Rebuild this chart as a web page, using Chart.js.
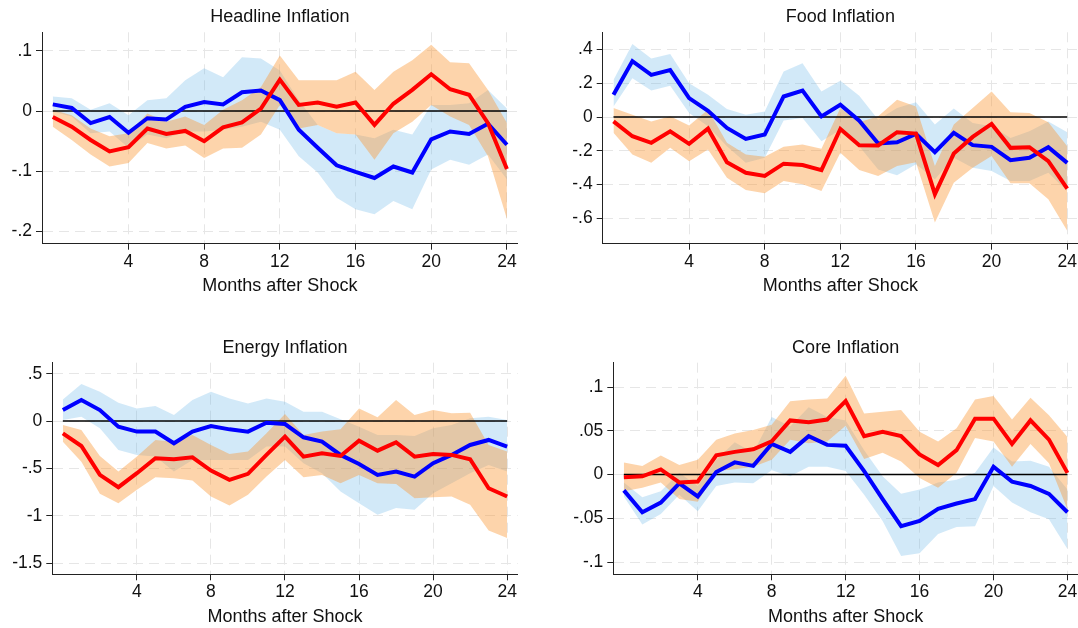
<!DOCTYPE html>
<html>
<head>
<meta charset="utf-8">
<title>Inflation responses</title>
<script src="https://cdn.jsdelivr.net/npm/chart.js@4/dist/chart.umd.min.js"></script>
<style>
  html, body { margin: 0; padding: 0; background: #ffffff; }
  body { width: 1078px; height: 628px; position: relative; overflow: hidden; }
  .panel { position: absolute; }
  .panel canvas { display: block; }
</style>
</head>
<body>
<div class="panel" style="left:0px;top:0px"><canvas id="headline" width="539" height="314"></canvas></div>
<div class="panel" style="left:539px;top:0px"><canvas id="food" width="539" height="314"></canvas></div>
<div class="panel" style="left:0px;top:330px"><canvas id="energy" width="539" height="298"></canvas></div>
<div class="panel" style="left:539px;top:330px"><canvas id="core" width="539" height="298"></canvas></div>

<script>
// Horizon (months after the shock) and the ticks shown on the x axis
const months = [0, 1, 2, 3, 4, 5, 6, 7, 8, 9, 10, 11, 12, 13, 14, 15, 16, 17, 18, 19, 20, 21, 22, 23, 24];
const monthTicks = [4, 8, 12, 16, 20, 24];
const zeroLevel = 0;

// Headline inflation
const headlineBlue   = [0.011, 0.005, -0.020, -0.010, -0.036, -0.012, -0.014, 0.007, 0.015, 0.011, 0.031, 0.034, 0.018, -0.031, -0.061, -0.090, -0.101, -0.111, -0.092, -0.102, -0.047, -0.034, -0.038, -0.021, -0.056];
const headlineBlueLo = [-0.001, -0.009, -0.037, -0.034, -0.061, -0.039, -0.045, -0.034, -0.034, -0.031, -0.026, -0.018, -0.031, -0.075, -0.102, -0.144, -0.163, -0.171, -0.149, -0.163, -0.097, -0.081, -0.089, -0.072, -0.113];
const headlineBlueHi = [0.024, 0.021, 0.002, 0.013, -0.007, 0.018, 0.021, 0.051, 0.071, 0.056, 0.089, 0.087, 0.067, 0.018, -0.023, -0.037, -0.039, -0.045, -0.031, -0.039, 0.010, 0.010, 0.013, 0.035, 0.004];
const headlineRed    = [-0.010, -0.026, -0.048, -0.067, -0.060, -0.029, -0.038, -0.033, -0.050, -0.027, -0.019, 0.004, 0.052, 0.010, 0.014, 0.007, 0.014, -0.023, 0.012, 0.035, 0.061, 0.036, 0.027, -0.020, -0.096];
const headlineRedLo  = [-0.026, -0.048, -0.072, -0.092, -0.086, -0.053, -0.062, -0.057, -0.078, -0.062, -0.061, -0.039, 0.010, -0.029, -0.023, -0.037, -0.039, -0.081, -0.037, -0.018, 0.010, -0.009, -0.023, -0.075, -0.179];
const headlineRedHi  = [0.002, -0.007, -0.029, -0.042, -0.037, -0.004, -0.018, -0.009, -0.023, 0.002, 0.018, 0.040, 0.092, 0.051, 0.051, 0.051, 0.065, 0.035, 0.065, 0.084, 0.110, 0.081, 0.079, 0.035, -0.020];
const headlineTicks  = [0.1, 0, -0.1, -0.2];

// Food inflation
const foodBlue   = [0.132, 0.332, 0.250, 0.279, 0.112, 0.037, -0.065, -0.130, -0.104, 0.122, 0.157, 0.004, 0.073, -0.022, -0.157, -0.150, -0.100, -0.209, -0.094, -0.167, -0.177, -0.256, -0.242, -0.179, -0.272];
const foodBlueLo = [0.063, 0.230, 0.157, 0.185, 0.024, -0.055, -0.173, -0.272, -0.242, -0.020, -0.006, -0.144, -0.075, -0.173, -0.311, -0.346, -0.281, -0.370, -0.242, -0.301, -0.321, -0.380, -0.380, -0.331, -0.439];
const foodBlueHi = [0.220, 0.433, 0.348, 0.374, 0.201, 0.132, 0.047, 0.014, 0.033, 0.270, 0.319, 0.151, 0.216, 0.126, -0.016, 0.053, 0.087, -0.045, 0.051, -0.035, -0.055, -0.124, -0.085, -0.026, -0.090];
const foodRed    = [-0.026, -0.114, -0.153, -0.085, -0.159, -0.069, -0.268, -0.331, -0.350, -0.277, -0.285, -0.315, -0.071, -0.167, -0.169, -0.090, -0.098, -0.458, -0.217, -0.118, -0.041, -0.183, -0.179, -0.262, -0.425];
const foodRedLo  = [-0.094, -0.222, -0.272, -0.183, -0.262, -0.193, -0.360, -0.433, -0.452, -0.380, -0.399, -0.439, -0.212, -0.315, -0.350, -0.291, -0.268, -0.626, -0.390, -0.301, -0.232, -0.393, -0.393, -0.488, -0.675];
const foodRedHi  = [0.053, 0.014, -0.026, 0.004, -0.051, 0.043, -0.153, -0.222, -0.236, -0.177, -0.163, -0.189, 0.053, -0.031, 0.004, 0.102, 0.063, -0.291, -0.045, 0.053, 0.151, 0.028, 0.024, -0.031, -0.173];
const foodTicks  = [0.4, 0.2, 0, -0.2, -0.4, -0.6];

// Energy inflation
const energyBlue   = [0.116, 0.221, 0.116, -0.060, -0.112, -0.112, -0.235, -0.112, -0.053, -0.088, -0.112, -0.018, -0.032, -0.172, -0.218, -0.358, -0.453, -0.569, -0.534, -0.587, -0.446, -0.358, -0.253, -0.200, -0.270];
const energyBlueLo = [0.011, 0.046, -0.077, -0.306, -0.358, -0.376, -0.534, -0.411, -0.411, -0.411, -0.411, -0.270, -0.270, -0.446, -0.551, -0.745, -0.868, -0.991, -0.920, -0.938, -0.762, -0.657, -0.551, -0.464, -0.534];
const energyBlueHi = [0.228, 0.390, 0.309, 0.193, 0.133, 0.158, 0.063, 0.221, 0.309, 0.239, 0.186, 0.239, 0.204, 0.098, 0.098, 0.018, -0.060, -0.148, -0.148, -0.158, -0.077, -0.042, 0.028, 0.046, 0.011];
const energyRed    = [-0.130, -0.264, -0.569, -0.699, -0.551, -0.393, -0.404, -0.383, -0.523, -0.622, -0.558, -0.358, -0.165, -0.376, -0.341, -0.369, -0.207, -0.313, -0.225, -0.376, -0.348, -0.358, -0.404, -0.710, -0.797];
const energyRedLo  = [-0.218, -0.429, -0.769, -0.868, -0.727, -0.594, -0.604, -0.629, -0.797, -0.892, -0.780, -0.587, -0.411, -0.594, -0.569, -0.657, -0.569, -0.657, -0.664, -0.815, -0.804, -0.797, -0.885, -1.156, -1.236];
const energyRedHi  = [-0.042, -0.095, -0.369, -0.534, -0.376, -0.200, -0.218, -0.148, -0.253, -0.348, -0.323, -0.130, 0.074, -0.148, -0.112, -0.088, 0.133, 0.039, 0.221, 0.063, 0.116, 0.081, 0.088, -0.253, -0.323];
const energyTicks  = [0.5, 0, -0.5, -1, -1.5];

// Core inflation
const coreBlue   = [-0.018, -0.043, -0.032, -0.010, -0.025, 0.003, 0.014, 0.010, 0.035, 0.026, 0.044, 0.034, 0.033, 0.004, -0.028, -0.059, -0.053, -0.039, -0.033, -0.028, 0.009, -0.008, -0.013, -0.022, -0.043];
const coreBlueLo = [-0.025, -0.057, -0.045, -0.023, -0.042, -0.013, -0.009, -0.010, 0.005, -0.002, 0.009, 0.009, 0.004, -0.023, -0.053, -0.093, -0.090, -0.068, -0.060, -0.059, -0.013, -0.032, -0.043, -0.051, -0.085];
const coreBlueHi = [-0.009, -0.026, -0.019, 0.002, -0.013, 0.017, 0.037, 0.025, 0.066, 0.055, 0.077, 0.066, 0.062, 0.028, -0.002, -0.022, -0.017, -0.009, -0.006, 0.002, 0.031, 0.015, 0.016, 0.009, -0.017];
const coreRed    = [-0.003, -0.002, 0.006, -0.009, -0.008, 0.022, 0.026, 0.029, 0.038, 0.062, 0.060, 0.063, 0.084, 0.044, 0.049, 0.044, 0.023, 0.011, 0.028, 0.064, 0.064, 0.035, 0.062, 0.040, 0.002];
const coreRedLo  = [-0.019, -0.015, -0.009, -0.028, -0.031, 0.004, 0.006, 0.009, 0.017, 0.040, 0.036, 0.038, 0.056, 0.018, 0.025, 0.015, -0.004, -0.015, 0.002, 0.042, 0.038, 0.009, 0.035, 0.013, -0.040];
const coreRedHi  = [0.014, 0.010, 0.022, 0.011, 0.017, 0.040, 0.047, 0.051, 0.057, 0.084, 0.086, 0.087, 0.113, 0.070, 0.072, 0.074, 0.049, 0.038, 0.053, 0.086, 0.090, 0.063, 0.088, 0.068, 0.043];
const coreTicks  = [0.1, 0.05, 0, -0.05, -0.1];

// Styling
const FONT = "'Liberation Sans', Arial, Helvetica, sans-serif";
const TEXT = '#111111';
const AXIS = '#222222';
const GRID = '#e6e6e6';
const BLUE = '#0000ff';
const RED = '#ff0000';
const BLUE_BAND = 'rgba(100, 180, 230, 0.29)';
const ORANGE_BAND = 'rgba(251, 150, 50, 0.41)';

// Stata-style number labels: ".1", "-.05", "-1.5"
function stataLabel(v) {
  const s = String(Math.round(v * 1000) / 1000);
  return s.replace(/^(-?)0\./, '$1.');
}

function points(values) {
  return months.map((m, i) => ({ x: m, y: values[i] }));
}

function lineSet(values, color) {
  return { data: points(values), borderColor: color, borderWidth: 4, pointRadius: 0, tension: 0, fill: false,
           borderJoinStyle: 'miter', borderCapStyle: 'butt' };
}

function bandEdge(values, fillColor, fillToPrevious) {
  return { data: points(values), borderColor: 'transparent', borderWidth: 0, pointRadius: 0, tension: 0,
           backgroundColor: fillColor, fill: fillToPrevious ? '-1' : false };
}

function drawPanel(canvasId, title, s, yTicks, yMin, yMax, frame) {
  const tickFont = { family: FONT, size: 17.5 };
  const titleFont = { family: FONT, size: 18, weight: 'normal' };
  const zeroLine = [
    { x: months[0], y: zeroLevel },
    { x: months[months.length - 1], y: zeroLevel }
  ];
  new Chart(document.getElementById(canvasId), {
    type: 'line',
    data: {
      datasets: [
        lineSet(s.red, RED),
        lineSet(s.blue, BLUE),
        { data: zeroLine, borderColor: '#000000', borderWidth: 1.5, pointRadius: 0, fill: false },
        bandEdge(s.redLo, ORANGE_BAND, false),
        bandEdge(s.redHi, ORANGE_BAND, true),
        bandEdge(s.blueLo, BLUE_BAND, false),
        bandEdge(s.blueHi, BLUE_BAND, true)
      ]
    },
    options: {
      responsive: false,
      animation: false,
      events: [],
      layout: { padding: { left: 0, right: frame.padRight, top: 0, bottom: 0 } },
      plugins: {
        legend: { display: false },
        tooltip: { enabled: false },
        filler: { drawTime: 'beforeDatasetsDraw' },
        title: {
          display: true, text: title, fullSize: false, color: TEXT, font: titleFont,
          padding: { top: frame.titleTop, bottom: frame.titleBottom }
        }
      },
      scales: {
        x: {
          type: 'linear', min: -0.57, max: 24.57,
          afterBuildTicks: (scale) => { scale.ticks = monthTicks.map(v => ({ value: v })); },
          afterFit: (scale) => { scale.height = frame.xHeight; scale.paddingLeft = 0; scale.paddingRight = 0; },
          ticks: { font: tickFont, color: TEXT, padding: 1.5, maxRotation: 0, autoSkip: false },
          grid: { color: GRID, lineWidth: 1, tickLength: 6, tickColor: AXIS, tickWidth: 1, tickBorderDash: [] },
          border: { color: AXIS, width: 1, dash: [10, 6] },
          title: { display: true, text: 'Months after Shock', color: TEXT, font: titleFont,
                   padding: { top: 0, bottom: frame.xTitleBottom } }
        },
        y: {
          type: 'linear', min: yMin, max: yMax,
          afterBuildTicks: (scale) => { scale.ticks = yTicks.map(v => ({ value: v })); },
          afterFit: (scale) => { scale.width = frame.yWidth; scale.paddingTop = 0; scale.paddingBottom = 0; },
          ticks: { font: tickFont, color: TEXT, padding: 4, autoSkip: false, callback: (v) => stataLabel(v) },
          grid: { color: GRID, lineWidth: 1, tickLength: 6, tickColor: AXIS, tickWidth: 1, tickBorderDash: [] },
          border: { color: AXIS, width: 1, dash: [10, 6] }
        }
      }
    }
  });
}

const topFrame = { titleTop: 6.5, titleBottom: 4.2, xHeight: 70.3, xTitleBottom: 17.2 };
const bottomFrame = { titleTop: 7.5, titleBottom: 3.6, xHeight: 53.7, xTitleBottom: 0.5 };

drawPanel('headline', 'Headline Inflation',
  { blue: headlineBlue, blueLo: headlineBlueLo, blueHi: headlineBlueHi, red: headlineRed, redLo: headlineRedLo, redHi: headlineRedHi },
  headlineTicks, -0.22, 0.1305, Object.assign({ yWidth: 42, padRight: 21.3 }, topFrame));

drawPanel('food', 'Food Inflation',
  { blue: foodBlue, blueLo: foodBlueLo, blueHi: foodBlueHi, red: foodRed, redLo: foodRedLo, redHi: foodRedHi },
  foodTicks, -0.752, 0.503, Object.assign({ yWidth: 63.7, padRight: 0 }, topFrame));

drawPanel('energy', 'Energy Inflation',
  { blue: energyBlue, blueLo: energyBlueLo, blueHi: energyBlueHi, red: energyRed, redLo: energyRedLo, redHi: energyRedHi },
  energyTicks, -1.619, 0.616, Object.assign({ yWidth: 52.3, padRight: 21.3 }, bottomFrame));

drawPanel('core', 'Core Inflation',
  { blue: coreBlue, blueLo: coreBlueLo, blueHi: coreBlueHi, red: coreRed, redLo: coreRedLo, redHi: coreRedHi },
  coreTicks, -0.114, 0.128, Object.assign({ yWidth: 74.3, padRight: 0 }, bottomFrame));
</script>
</body>
</html>
